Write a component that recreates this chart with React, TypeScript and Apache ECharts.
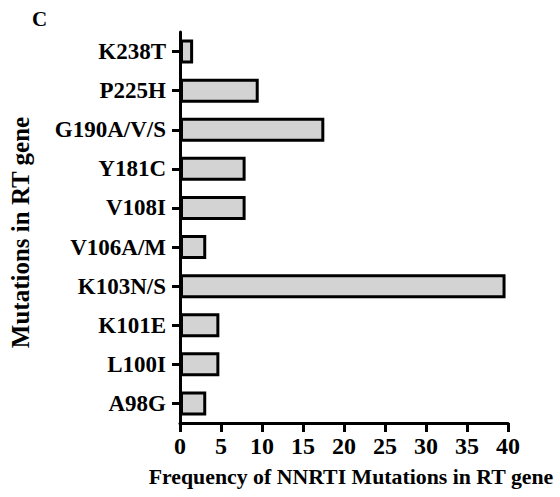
import React, { useEffect, useRef } from "react";
import * as echarts from "echarts";

const categories = ["A98G", "L100I", "K101E", "K103N/S", "V106A/M", "V108I", "Y181C", "G190A/V/S", "P225H", "K238T"];
const frequencies = [3.2, 4.8, 4.8, 39.7, 3.2, 8.0, 8.0, 17.6, 9.6, 1.6];
const xTicks = [0, 5, 10, 15, 20, 25, 30, 35, 40];

const FONT = '"Liberation Serif", "Times New Roman", serif';

export default function App() {
  const ref = useRef<HTMLDivElement>(null);
  useEffect(() => {
    if (!ref.current) return;
    const chart = echarts.init(ref.current, null, { renderer: "svg" });
    chart.setOption({
      animation: false,
      backgroundColor: "#ffffff",
      grid: { left: 175, right: 52, top: 32, bottom: 74, containLabel: false },
      graphic: [
        {
          type: "text",
          left: 32,
          top: 8,
          style: { text: "C", font: `bold 21px ${FONT}`, fill: "#000" },
        },
      ],
      xAxis: {
        type: "value",
        min: xTicks[0],
        max: xTicks[xTicks.length - 1],
        interval: 5,
        splitLine: { show: false },
        axisLine: { show: true, lineStyle: { color: "#000", width: 3 } },
        axisTick: { show: true, length: 9, lineStyle: { color: "#000", width: 3 } },
        axisLabel: { margin: 11, color: "#000", fontFamily: FONT, fontWeight: "bold", fontSize: 24 },
        name: "Frequency of NNRTI Mutations in RT gene",
        nameLocation: "middle",
        nameGap: 43,
        nameTextStyle: { color: "#000", fontFamily: FONT, fontWeight: "bold", fontSize: 21.8, padding: [0, 0, 0, 14] },
      },
      yAxis: {
        type: "category",
        data: categories,
        axisLine: { show: true, lineStyle: { color: "#000", width: 3 } },
        axisTick: { show: true, length: 8, alignWithLabel: true, lineStyle: { color: "#000", width: 3 } },
        axisLabel: { margin: 14, color: "#000", fontFamily: FONT, fontWeight: "bold", fontSize: 23 },
        name: "Mutations in RT gene",
        nameLocation: "middle",
        nameGap: 147,
        nameTextStyle: { color: "#000", fontFamily: FONT, fontWeight: "bold", fontSize: 25, padding: [0, 10, 0, 0] },
      },
      series: [
        {
          type: "bar",
          data: frequencies,
          barWidth: 24,
          itemStyle: { color: "#d3d3d3", borderColor: "#000", borderWidth: 3 },
        },
      ],
    });
    return () => chart.dispose();
  }, []);
  return <div ref={ref} style={{ width: 560, height: 497, position: "absolute", left: 0, top: 0 }} />;
}
